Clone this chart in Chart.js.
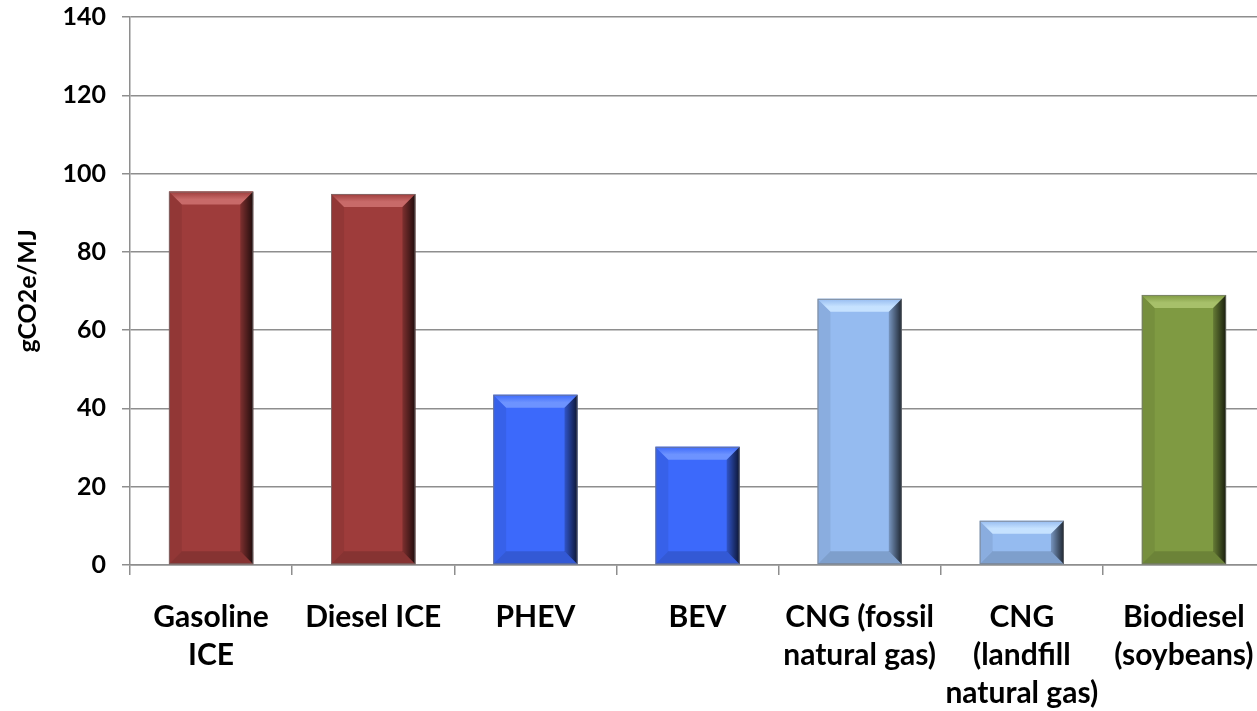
<!DOCTYPE html>
<html>
<head>
<meta charset="utf-8">
<script src="https://cdn.jsdelivr.net/npm/chart.js@4.4.1/dist/chart.umd.min.js"></script>
<style>
    html, body { margin: 0; padding: 0; background: #fff; overflow: hidden; }
    #wrap { width: 1265px; height: 711px; position: relative; }
</style>
</head>
<body>
<div id="wrap"><canvas id="emissionsChart"></canvas></div>
<script>
var categories = [
    ["Gasoline", "ICE"],
    ["Diesel ICE"],
    ["PHEV"],
    ["BEV"],
    ["CNG (fossil", "natural gas)"],
    ["CNG", "(landfill", "natural gas)"],
    ["Biodiesel", "(soybeans)"]
];
var emissions = [95.4, 94.8, 43.5, 30.2, 68.0, 11.3, 69.0];
var barColors = ["#9e3c3b", "#9e3c3b", "#3c69fb", "#3c69fb", "#95bbf0", "#95bbf0", "#7f9a42"];
var topColors = ["#c86a69", "#c86a69", "#6d93ff", "#6d93ff", "#c6e2ff", "#c6e2ff", "#a7c06a"];
var yTicks = [0, 20, 40, 60, 80, 100, 120, 140];
var yTitle = "gCO2e/MJ";

var fontFamily = "Lato, 'Open Sans', sans-serif";
var gridColor = "#8e8e8e";

// draws the bevelled edges on top of each bar
var bevelPlugin = {
    id: "bevel",
    afterDatasetsDraw: function (chart) {
        var ctx = chart.ctx;
        var meta = chart.getDatasetMeta(0);
        for (var i = 0; i < meta.data.length; i++) {
            var bar = meta.data[i];
            var l = bar.x - bar.width / 2;
            var r = bar.x + bar.width / 2;
            var t = bar.y;
            var b = bar.base;
            var s = Math.min(13, (b - t) / 2);
            ctx.save();

            // left side
            ctx.beginPath();
            ctx.moveTo(l, t); ctx.lineTo(l + s, t + s); ctx.lineTo(l + s, b - s); ctx.lineTo(l, b);
            ctx.closePath();
            ctx.fillStyle = "rgba(0,0,0,0.07)";
            ctx.fill();

            // top side
            var g = ctx.createLinearGradient(0, t, 0, t + s);
            g.addColorStop(0, barColors[i]);
            g.addColorStop(0.6, topColors[i]);
            g.addColorStop(1, topColors[i]);
            ctx.beginPath();
            ctx.moveTo(l, t); ctx.lineTo(r, t); ctx.lineTo(r - s, t + s); ctx.lineTo(l + s, t + s);
            ctx.closePath();
            ctx.fillStyle = g;
            ctx.fill();

            // bottom side
            ctx.beginPath();
            ctx.moveTo(l, b); ctx.lineTo(r, b); ctx.lineTo(r - s, b - s); ctx.lineTo(l + s, b - s);
            ctx.closePath();
            ctx.fillStyle = "rgba(0,0,0,0.15)";
            ctx.fill();

            // right side
            var g2 = ctx.createLinearGradient(r - s, 0, r, 0);
            g2.addColorStop(0, "rgba(0,0,0,0.2)");
            g2.addColorStop(1, "rgba(0,0,0,0.8)");
            ctx.beginPath();
            ctx.moveTo(r, t); ctx.lineTo(r, b); ctx.lineTo(r - s, b - s); ctx.lineTo(r - s, t + s);
            ctx.closePath();
            ctx.fillStyle = g2;
            ctx.fill();

            ctx.strokeStyle = "rgba(120,120,120,0.7)";
            ctx.lineWidth = 1;
            ctx.strokeRect(l + 0.5, t + 0.5, r - l - 1, b - t - 1);
            ctx.restore();
        }
    }
};

var ctx = document.getElementById("emissionsChart");
var chart = new Chart(ctx, {
    type: "bar",
    data: {
        labels: categories,
        datasets: [
            {
                data: emissions,
                backgroundColor: barColors,
                borderWidth: 0,
                barPercentage: 0.52,
                categoryPercentage: 1.0
            }
        ]
    },
    plugins: [bevelPlugin],
    options: {
        responsive: true,
        maintainAspectRatio: false,
        animation: false,
        layout: { padding: { top: 17, right: 0, left: 0, bottom: 0 } },
        plugins: {
            legend: { display: false },
            tooltip: { enabled: false }
        },
        scales: {
            x: {
                grid: {
                    offset: true,
                    drawOnChartArea: false,
                    drawTicks: true,
                    tickLength: 10,
                    color: gridColor,
                    lineWidth: 1.5
                },
                border: { color: gridColor, width: 1.5 },
                ticks: {
                    color: "#000",
                    padding: 23,
                    maxRotation: 0,
                    autoSkip: false,
                    font: { family: fontFamily, size: 30, weight: "bold", lineHeight: 1.27 }
                },
                afterFit: function (scale) {
                    scale.height = 146;
                    scale.paddingLeft = 0;
                    scale.paddingRight = 0;
                }
            },
            y: {
                min: 0,
                max: 140,
                afterBuildTicks: function (scale) {
                    scale.ticks = yTicks.map(function (v) { return { value: v }; });
                },
                grid: {
                    color: gridColor,
                    lineWidth: 1.5,
                    tickLength: 8
                },
                border: { color: gridColor, width: 1.5 },
                ticks: {
                    color: "#000",
                    padding: 16,
                    font: { family: fontFamily, size: 25, weight: "bold" }
                },
                title: {
                    display: true,
                    text: yTitle,
                    color: "#000",
                    padding: { top: 13, bottom: 0 },
                    font: { family: fontFamily, size: 25, weight: "bold" }
                },
                afterFit: function (scale) {
                    scale.width = 130;
                    scale.paddingTop = 0;
                    scale.paddingBottom = 0;
                }
            }
        }
    }
});
</script>
</body>
</html>
